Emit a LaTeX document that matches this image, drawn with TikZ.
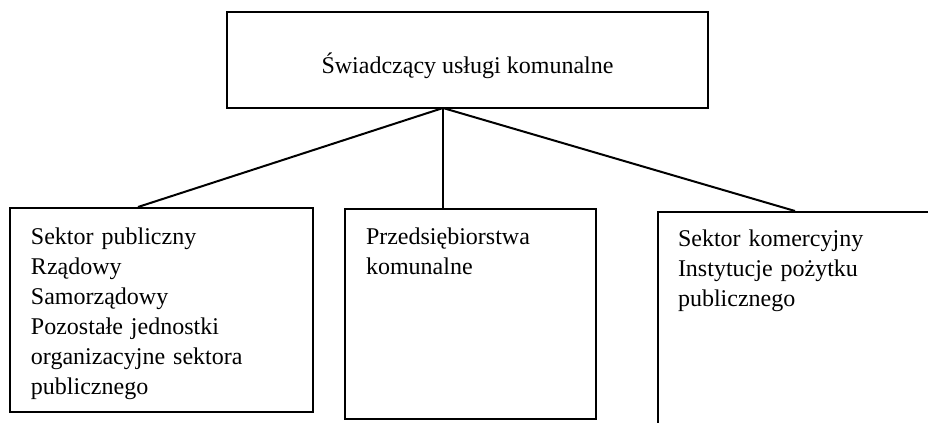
\documentclass[tikz,border=0pt]{standalone}
\usepackage{fontspec}
\setmainfont{Liberation Serif}
\usetikzlibrary{positioning, calc}

\tikzset{
	box/.style = {draw, rectangle, line width = 1pt, anchor = north west, align = left, inner ysep = 0pt, font = \fontsize{12pt}{15pt}\selectfont},
	link/.style = {line width = 1pt}
}

\begin{document}
\begin{tikzpicture}[x = 0.5pt, y = -0.5pt]
	\clip (0,0) rectangle (928,423);
	% top box
	\node[draw, rectangle, line width = 1pt, minimum width = 240.5pt, minimum height = 48pt, text height = 15pt, text depth = 2pt, font = \fontsize{12pt}{15pt}\selectfont] at (467.5, 60) (top) {Świadczący usługi komunalne};
	\coordinate (apex) at (443, 108);
	% lower boxes
	\node[box, inner xsep = 10.5pt, text width = 130.5pt, text height = 18pt, text depth = 84pt] at (9, 207) (pub) {Sektor publiczny\\Rządowy\\Samorządowy\\Pozostałe jednostki\\organizacyjne sektora\\publicznego};
	\node[box, inner xsep = 10.5pt, text width = 104.5pt, text height = 17.5pt, text depth = 87.5pt] at (344, 208) (kom) {Przedsiębiorstwa\\komunalne};
	\node[box, inner xsep = 10pt, text width = 121.5pt, text height = 17pt, text depth = 97.5pt] at (657, 211) (com) {Sektor komercyjny\\Instytucje pożytku\\publicznego};
	% connectors
	\draw[link] (apex) -- ([xshift = 64.5pt]pub.north west);
	\draw[link] (apex) -- (apex |- kom.north);
	\draw[link] (apex) -- ([xshift = 69pt]com.north west);
\end{tikzpicture}
\end{document}
